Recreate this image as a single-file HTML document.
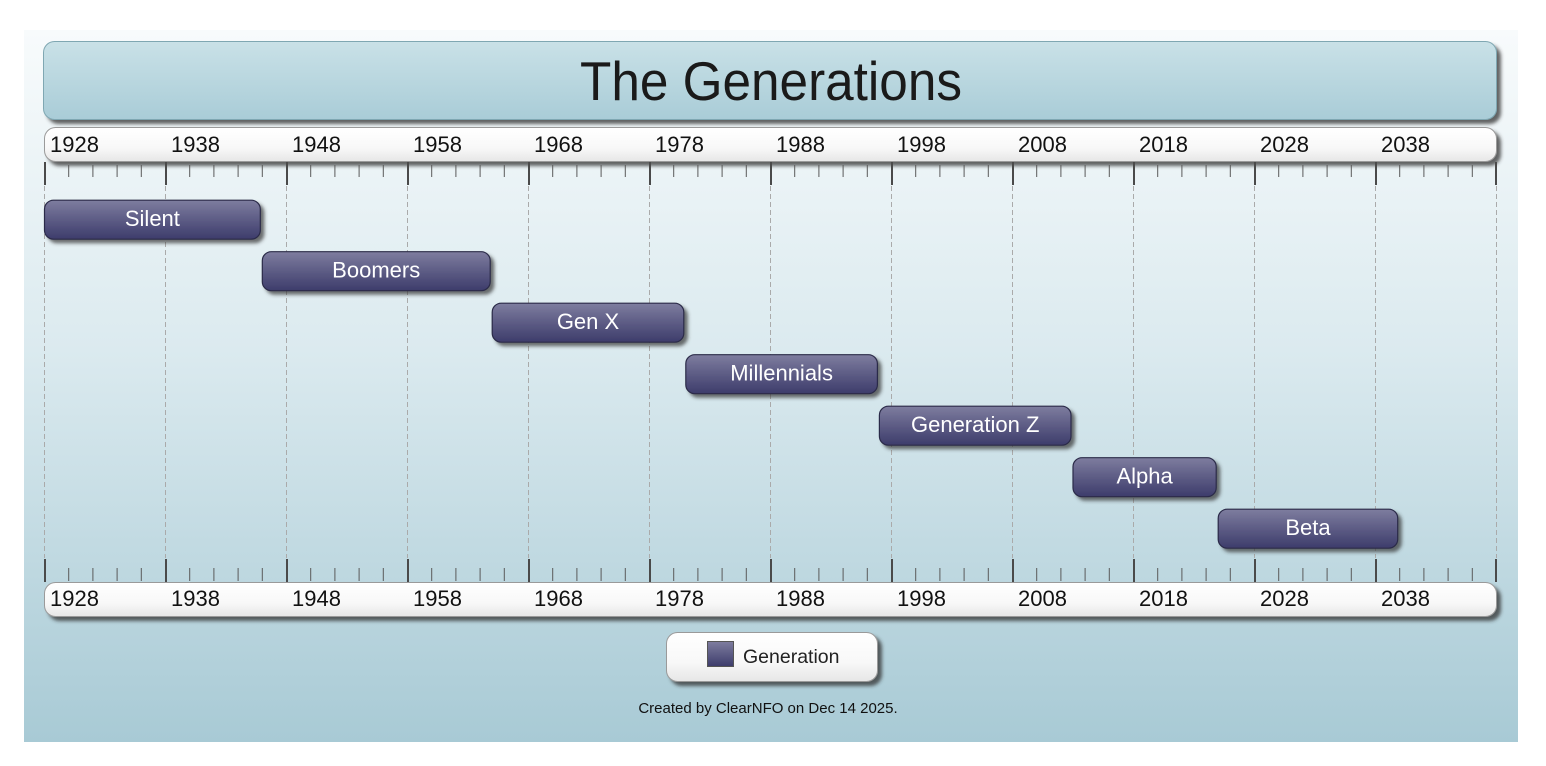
<!DOCTYPE html>
<html>
<head>
<meta charset="utf-8">
<style>
  html, body { margin:0; padding:0; background:#ffffff; }
  body { width:1546px; height:766px; overflow:hidden; }
  svg { display:block; }
  text { font-family: "Liberation Sans", Arial, sans-serif; }
</style>
</head>
<body>
<svg width="1546" height="766" viewBox="0 0 1546 766" xmlns="http://www.w3.org/2000/svg">
  <defs>
    <linearGradient id="bg" x1="0" y1="0" x2="0" y2="1">
      <stop offset="0" stop-color="#f8fbfc"/>
      <stop offset="0.45" stop-color="#dbeaef"/>
      <stop offset="1" stop-color="#a8cad5"/>
    </linearGradient>
    <linearGradient id="titleG" x1="0" y1="0" x2="0" y2="1">
      <stop offset="0" stop-color="#c9e1e7"/>
      <stop offset="1" stop-color="#a9ccd7"/>
    </linearGradient>
    <linearGradient id="axisG" x1="0" y1="0" x2="0" y2="1">
      <stop offset="0" stop-color="#ffffff"/>
      <stop offset="0.6" stop-color="#f8f8f8"/>
      <stop offset="1" stop-color="#e6e6e6"/>
    </linearGradient>
    <linearGradient id="barG" x1="0" y1="0" x2="0" y2="1">
      <stop offset="0" stop-color="#7e7d9f"/>
      <stop offset="0.5" stop-color="#5d5c85"/>
      <stop offset="1" stop-color="#3d3c6b"/>
    </linearGradient>
    <filter id="sh" x="-5%" y="-30%" width="110%" height="160%">
      <feDropShadow dx="4" dy="4" stdDeviation="1.8" flood-color="#333" flood-opacity="0.75"/>
    </filter>
    <filter id="shb" x="-10%" y="-30%" width="120%" height="170%">
      <feDropShadow dx="3.5" dy="3.5" stdDeviation="1.8" flood-color="#333" flood-opacity="0.7"/>
    </filter>
  </defs>

  <rect x="24" y="30" width="1494" height="712" fill="url(#bg)"/>

  <rect x="43.5" y="41.5" width="1453" height="78" rx="11" ry="11" fill="url(#titleG)" stroke="#7fa7b2" stroke-width="1" filter="url(#sh)"/>
  <text x="771" y="100" text-anchor="middle" font-size="55" fill="#1a1a1a" textLength="382" lengthAdjust="spacingAndGlyphs">The Generations</text>

  <rect x="44.5" y="127.5" width="1452" height="34" rx="11" ry="11" fill="url(#axisG)" stroke="#9a9a9a" stroke-width="1" filter="url(#sh)"/>
  <rect x="44.5" y="582.5" width="1452" height="34" rx="11" ry="11" fill="url(#axisG)" stroke="#9a9a9a" stroke-width="1" filter="url(#sh)"/>

  <g stroke="#aaaaaa" stroke-width="1" stroke-dasharray="5,3">
    <line x1="44.5" y1="186" x2="44.5" y2="558"/>
    <line x1="165.5" y1="186" x2="165.5" y2="558"/>
    <line x1="286.5" y1="186" x2="286.5" y2="558"/>
    <line x1="407.5" y1="186" x2="407.5" y2="558"/>
    <line x1="528.5" y1="186" x2="528.5" y2="558"/>
    <line x1="649.5" y1="186" x2="649.5" y2="558"/>
    <line x1="770.5" y1="186" x2="770.5" y2="558"/>
    <line x1="891.5" y1="186" x2="891.5" y2="558"/>
    <line x1="1012.5" y1="186" x2="1012.5" y2="558"/>
    <line x1="1133.5" y1="186" x2="1133.5" y2="558"/>
    <line x1="1254.5" y1="186" x2="1254.5" y2="558"/>
    <line x1="1375.5" y1="186" x2="1375.5" y2="558"/>
    <line x1="1496.5" y1="186" x2="1496.5" y2="558"/>
  </g>

  <g>
    <g stroke="#4a4a4a" stroke-width="2">
      <line x1="45" y1="162" x2="45" y2="185"/><line x1="166" y1="162" x2="166" y2="185"/>
      <line x1="287" y1="162" x2="287" y2="185"/><line x1="408" y1="162" x2="408" y2="185"/>
      <line x1="529" y1="162" x2="529" y2="185"/><line x1="650" y1="162" x2="650" y2="185"/>
      <line x1="771" y1="162" x2="771" y2="185"/><line x1="892" y1="162" x2="892" y2="185"/>
      <line x1="1013" y1="162" x2="1013" y2="185"/><line x1="1134" y1="162" x2="1134" y2="185"/>
      <line x1="1255" y1="162" x2="1255" y2="185"/><line x1="1376" y1="162" x2="1376" y2="185"/>
      <line x1="1496" y1="162" x2="1496" y2="185"/>

      <line x1="45" y1="559" x2="45" y2="582"/><line x1="166" y1="559" x2="166" y2="582"/>
      <line x1="287" y1="559" x2="287" y2="582"/><line x1="408" y1="559" x2="408" y2="582"/>
      <line x1="529" y1="559" x2="529" y2="582"/><line x1="650" y1="559" x2="650" y2="582"/>
      <line x1="771" y1="559" x2="771" y2="582"/><line x1="892" y1="559" x2="892" y2="582"/>
      <line x1="1013" y1="559" x2="1013" y2="582"/><line x1="1134" y1="559" x2="1134" y2="582"/>
      <line x1="1255" y1="559" x2="1255" y2="582"/><line x1="1376" y1="559" x2="1376" y2="582"/>
      <line x1="1496" y1="559" x2="1496" y2="582"/>
    </g>
    <g stroke="#5a5a5a" stroke-width="1">
      <path d="
M68.7 165V177 M92.9 165V177 M117.1 165V177 M141.3 165V177
M189.7 165V177 M213.9 165V177 M238.1 165V177 M262.3 165V177
M310.7 165V177 M334.9 165V177 M359.1 165V177 M383.3 165V177
M431.7 165V177 M455.9 165V177 M480.1 165V177 M504.3 165V177
M552.7 165V177 M576.9 165V177 M601.1 165V177 M625.3 165V177
M673.7 165V177 M697.9 165V177 M722.1 165V177 M746.3 165V177
M794.7 165V177 M818.9 165V177 M843.1 165V177 M867.3 165V177
M915.7 165V177 M939.9 165V177 M964.1 165V177 M988.3 165V177
M1036.7 165V177 M1060.9 165V177 M1085.1 165V177 M1109.3 165V177
M1157.7 165V177 M1181.9 165V177 M1206.1 165V177 M1230.3 165V177
M1278.7 165V177 M1302.9 165V177 M1327.1 165V177 M1351.3 165V177
M1399.7 165V177 M1423.9 165V177 M1448.1 165V177 M1472.3 165V177
M68.7 568V581 M92.9 568V581 M117.1 568V581 M141.3 568V581
M189.7 568V581 M213.9 568V581 M238.1 568V581 M262.3 568V581
M310.7 568V581 M334.9 568V581 M359.1 568V581 M383.3 568V581
M431.7 568V581 M455.9 568V581 M480.1 568V581 M504.3 568V581
M552.7 568V581 M576.9 568V581 M601.1 568V581 M625.3 568V581
M673.7 568V581 M697.9 568V581 M722.1 568V581 M746.3 568V581
M794.7 568V581 M818.9 568V581 M843.1 568V581 M867.3 568V581
M915.7 568V581 M939.9 568V581 M964.1 568V581 M988.3 568V581
M1036.7 568V581 M1060.9 568V581 M1085.1 568V581 M1109.3 568V581
M1157.7 568V581 M1181.9 568V581 M1206.1 568V581 M1230.3 568V581
M1278.7 568V581 M1302.9 568V581 M1327.1 568V581 M1351.3 568V581
M1399.7 568V581 M1423.9 568V581 M1448.1 568V581 M1472.3 568V581"/>
    </g>
  </g>

  <g font-size="22" fill="#111">
    <text x="50" y="152">1928</text><text x="171" y="152">1938</text>
    <text x="292" y="152">1948</text><text x="413" y="152">1958</text>
    <text x="534" y="152">1968</text><text x="655" y="152">1978</text>
    <text x="776" y="152">1988</text><text x="897" y="152">1998</text>
    <text x="1018" y="152">2008</text><text x="1139" y="152">2018</text>
    <text x="1260" y="152">2028</text><text x="1381" y="152">2038</text>
  </g>
  <g font-size="22" fill="#111">
    <text x="50" y="606">1928</text><text x="171" y="606">1938</text>
    <text x="292" y="606">1948</text><text x="413" y="606">1958</text>
    <text x="534" y="606">1968</text><text x="655" y="606">1978</text>
    <text x="776" y="606">1988</text><text x="897" y="606">1998</text>
    <text x="1018" y="606">2008</text><text x="1139" y="606">2018</text>
    <text x="1260" y="606">2028</text><text x="1381" y="606">2038</text>
  </g>

  <g stroke="#2c2b48" stroke-width="1.2" fill="url(#barG)" filter="url(#shb)">
    <rect x="44.5" y="200.2" width="215.8" height="39" rx="9" ry="9"/>
    <rect x="262.3" y="251.7" width="227.9" height="39" rx="9" ry="9"/>
    <rect x="492.2" y="303.2" width="191.6" height="39" rx="9" ry="9"/>
    <rect x="685.8" y="354.7" width="191.6" height="39" rx="9" ry="9"/>
    <rect x="879.4" y="406.2" width="191.6" height="39" rx="9" ry="9"/>
    <rect x="1073.0" y="457.7" width="143.2" height="39" rx="9" ry="9"/>
    <rect x="1218.2" y="509.2" width="179.5" height="39" rx="9" ry="9"/>
  </g>
  <g font-size="22" fill="#ffffff" text-anchor="middle">
    <text x="152.4" y="226.2">Silent</text>
    <text x="376.2" y="277.7">Boomers</text>
    <text x="588" y="329.2">Gen X</text>
    <text x="781.6" y="380.7">Millennials</text>
    <text x="975.2" y="432.2">Generation Z</text>
    <text x="1144.6" y="483.7">Alpha</text>
    <text x="1308" y="535.2">Beta</text>
  </g>

  <rect x="666.5" y="632.5" width="211" height="49" rx="11" ry="11" fill="url(#axisG)" stroke="#9a9a9a" stroke-width="1" filter="url(#sh)"/>
  <rect x="707.5" y="641.5" width="26" height="25" fill="url(#barG)" stroke="#555" stroke-width="1"/>
  <text x="743" y="663" font-size="19.5" fill="#222">Generation</text>

  <text x="768" y="713" font-size="15" fill="#111" text-anchor="middle">Created by ClearNFO on Dec 14 2025.</text>
</svg>
</body>
</html>
